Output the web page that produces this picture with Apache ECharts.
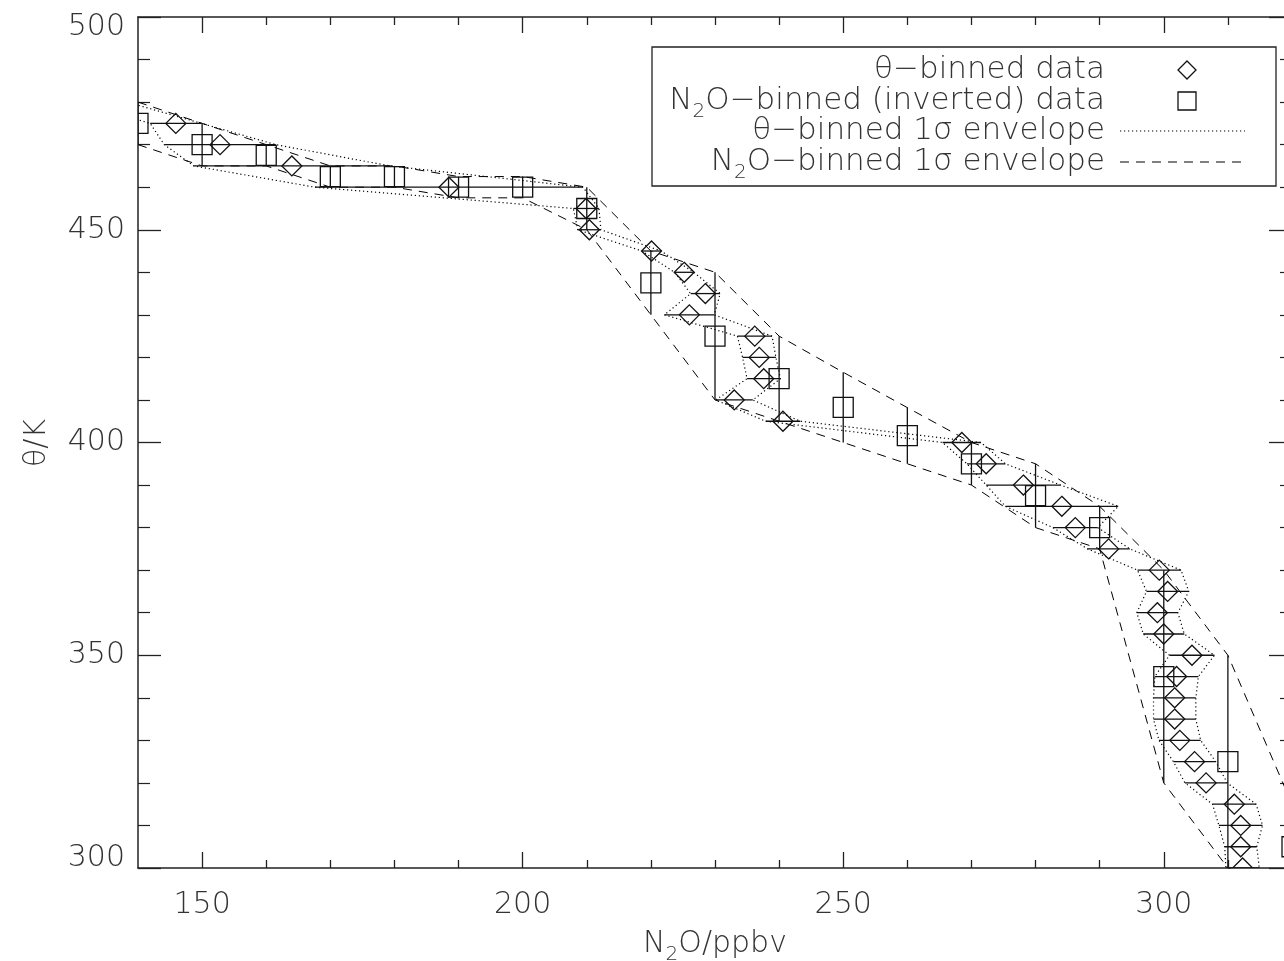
<!DOCTYPE html>
<html>
<head>
<meta charset="utf-8">
<script src="https://cdn.jsdelivr.net/npm/echarts@6/dist/echarts.min.js"></script>
<style>
html,body{margin:0;padding:0;background:#fff;}
#chart{width:1284px;height:961px;}
</style>
</head>
<body>
<div id="chart"></div>
<script>
// ---- theta-binned data (diamonds): mean N2O and 1-sigma spread of N2O in each theta bin
const thetaBins = [480, 475, 470, 465, 460, 455, 450, 445, 440, 435, 430, 425, 420, 415, 410, 405,
  400, 395, 390, 385, 380, 375, 370, 365, 360, 355, 350, 345, 340, 335, 330, 325, 320, 315, 310, 305, 300];
const thetaN2O = [134.5, 145.9, 152.8, 164.0, 188.5, 209.9, 210.4, 220.1, 225.2, 228.5, 226.0, 236.2, 236.9, 237.6, 233.0, 240.6,
  268.5, 272.3, 278.1, 284.1, 286.2, 291.4, 299.3, 300.6, 299.0, 300.0, 304.4, 302.0, 301.7, 301.7, 302.5, 304.8, 306.6, 311.0, 312.0, 312.0, 312.3];
const thetaN2OSd = [3.8, 4.0, 8.7, 15.3, 20.9, 2.0, 1.8, 1.5, 1.5, 2.3, 3.9, 2.7, 2.6, 2.6, 2.9, 2.7,
  3.0, 3.0, 5.8, 8.8, 3.5, 3.3, 3.4, 3.3, 3.2, 3.2, 3.5, 3.4, 3.3, 3.3, 3.25, 3.3, 3.3, 3.4, 3.4, 2.5, 2.6];

// ---- N2O-binned (inverted) data (squares): mean theta and 1-sigma spread of theta in each N2O bin
const n2oBins = [140, 150, 160, 170, 180, 190, 200, 210, 220, 230, 240, 250, 260, 270, 280, 290, 300, 310, 320];
const n2oTheta = [475, 470, 467.5, 462.5, 462.5, 460, 460, 455, 437.5, 425, 415, 408.25, 401.6, 395, 387.5, 380, 345, 325, 305];
const n2oThetaSd = [5, 5, 2.5, 2.5, 2.5, 2.5, 2.5, 5, 7.5, 15, 10, 8.25, 6.6, 5, 7.5, 5, 25, 25, 10];

// ---- tick labels
const xMajorTicks = [150, 200, 250, 300];
const xMinorTicks = [160, 170, 180, 190, 210, 220, 230, 240, 260, 270, 280, 290, 310];

// ---- text
const legendLabels = ['θ−binned data', 'N2O−binned (inverted) data', 'θ−binned 1σ envelope', 'N2O−binned 1σ envelope'];

const FONT = "'DejaVu Sans', sans-serif";
const FW = 200;
const TXT = '#333';
const AX = '#222';

function richN2O(s) { // turn "N2O" into a subscripted rich string
  return s.split('N2O').map(p => p ? '{n|' + p + '}' : '').join('{n|N}{s|2}{n|O}');
}
function richStyle(size, sub, pad) {
  return {
    n: { fontSize: size, fontFamily: FONT, fontWeight: FW, fill: TXT },
    s: { fontSize: sub, fontFamily: FONT, fontWeight: FW, fill: TXT, padding: [pad, 0, 0, 0] }
  };
}

const chart = echarts.init(document.getElementById('chart'), null, { renderer: 'canvas' });

function xAxisDef(pos, ticks, len, showLine, showLabel) {
  return {
    type: 'value', position: pos, min: 140, max: 320,
    axisLine: { show: showLine, onZero: false, lineStyle: { color: AX, width: 1.5 } },
    axisTick: { show: true, inside: true, length: len, customValues: ticks, lineStyle: { color: AX, width: 1.3 } },
    axisLabel: { show: showLabel, customValues: ticks, fontSize: 30, fontFamily: FONT, fontWeight: FW, color: TXT, margin: 22 },
    splitLine: { show: false }
  };
}
function yAxisDef(pos, showLabel) {
  return {
    type: 'value', position: pos, min: 300, max: 500, interval: 50,
    axisLine: { show: true, onZero: false, lineStyle: { color: AX, width: 1.5 } },
    axisTick: { show: true, inside: true, length: 23, lineStyle: { color: AX, width: 1.3 } },
    minorTick: { show: true, splitNumber: 5, length: 12, lineStyle: { color: AX, width: 1.2 } },
    axisLabel: { show: showLabel, fontSize: 30, fontFamily: FONT, fontWeight: FW, color: TXT, margin: 13, lineHeight: 20,
      verticalAlignMinLabel: 'bottom', verticalAlignMaxLabel: 'top' },
    splitLine: { show: false }
  };
}

const dotted = { color: '#000', width: 1.2, type: [1.2, 2.8] };
const dashed = { color: '#000', width: 1, type: [9, 7] };

function envelope(name, data, style) {
  return { type: 'line', name, data, symbol: 'none', showSymbol: false, clip: true,
    lineStyle: style, xAxisIndex: 0, yAxisIndex: 0, z: 2, silent: true };
}

const option = {
  animation: false,
  backgroundColor: '#fff',
  grid: { left: 138, top: 17, width: 1154, height: 851, containLabel: false, outerBoundsMode: 'none' },
  xAxis: [
    xAxisDef('bottom', xMajorTicks, 16, true, true),
    xAxisDef('bottom', xMinorTicks, 8, false, false),
    xAxisDef('top', xMajorTicks, 16, true, false),
    xAxisDef('top', xMinorTicks, 8, false, false)
  ],
  yAxis: [yAxisDef('left', true), yAxisDef('right', false)],
  series: [
    envelope('θ-binned 1σ envelope low', thetaBins.map((t, i) => [thetaN2O[i] - thetaN2OSd[i], t]), dotted),
    envelope('θ-binned 1σ envelope high', thetaBins.map((t, i) => [thetaN2O[i] + thetaN2OSd[i], t]), dotted),
    envelope('N2O-binned 1σ envelope high', n2oBins.map((n, i) => [n, n2oTheta[i] + n2oThetaSd[i]]), dashed),
    envelope('N2O-binned 1σ envelope low', n2oBins.map((n, i) => [n, n2oTheta[i] - n2oThetaSd[i]]), dashed),
    {
      type: 'custom', name: 'θ-binned data', clip: true, xAxisIndex: 0, yAxisIndex: 0, z: 3,
      data: thetaBins.map((t, i) => [thetaN2O[i], t, thetaN2OSd[i]]),
      encode: { x: 0, y: 1 },
      renderItem: function (params, api) {
        const x = api.value(0), y = api.value(1), s = api.value(2);
        const a = api.coord([x - s, y]), b = api.coord([x + s, y]), c = api.coord([x, y]);
        const h = 10;
        return { type: 'group', children: [
          { type: 'line', shape: { x1: a[0], y1: a[1], x2: b[0], y2: b[1] }, style: { stroke: '#111', lineWidth: 1.3 } },
          { type: 'polygon', shape: { points: [[c[0], c[1] - h], [c[0] + h, c[1]], [c[0], c[1] + h], [c[0] - h, c[1]]] },
            style: { fill: 'none', stroke: '#111', lineWidth: 1.3 } }
        ] };
      }
    },
    {
      type: 'custom', name: 'N2O-binned (inverted) data', clip: true, xAxisIndex: 0, yAxisIndex: 0, z: 3,
      data: n2oBins.map((n, i) => [n, n2oTheta[i], n2oThetaSd[i]]),
      encode: { x: 0, y: 1 },
      renderItem: function (params, api) {
        const x = api.value(0), y = api.value(1), s = api.value(2);
        const a = api.coord([x, y - s]), b = api.coord([x, y + s]), c = api.coord([x, y]);
        const h = 10;
        return { type: 'group', children: [
          { type: 'line', shape: { x1: a[0], y1: a[1], x2: b[0], y2: b[1] }, style: { stroke: '#111', lineWidth: 1.3 } },
          { type: 'rect', shape: { x: c[0] - h, y: c[1] - h, width: 2 * h, height: 2 * h },
            style: { fill: 'none', stroke: '#111', lineWidth: 1.3 } }
        ] };
      }
    }
  ],
  graphic: { elements: [
    // axis titles
    { type: 'text', x: 715, y: 944, z: 100,
      style: { text: richN2O('N2O/ppbv'), rich: richStyle(30, 20, 22), align: 'center', verticalAlign: 'middle', fill: TXT } },
    { type: 'text', x: 37, y: 443, rotation: Math.PI / 2, z: 100,
      style: { text: 'θ/K', fontSize: 30, fontFamily: FONT, fontWeight: FW, align: 'center', verticalAlign: 'middle', fill: TXT } },
    // legend box
    { type: 'rect', z: 100, shape: { x: 652, y: 47, width: 624, height: 139 },
      style: { fill: '#fff', stroke: AX, lineWidth: 1.3 } },
    { type: 'text', x: 1105, y: 70, z: 101,
      style: { text: richN2O(legendLabels[0]), rich: richStyle(31, 20, 22), align: 'right', verticalAlign: 'middle', fill: TXT } },
    { type: 'text', x: 1105, y: 101, z: 101,
      style: { text: richN2O(legendLabels[1]), rich: richStyle(31, 20, 22), align: 'right', verticalAlign: 'middle', fill: TXT } },
    { type: 'text', x: 1105, y: 131, z: 101,
      style: { text: richN2O(legendLabels[2]), rich: richStyle(31, 20, 22), align: 'right', verticalAlign: 'middle', fill: TXT } },
    { type: 'text', x: 1105, y: 162, z: 101,
      style: { text: richN2O(legendLabels[3]), rich: richStyle(31, 20, 22), align: 'right', verticalAlign: 'middle', fill: TXT } },
    { type: 'polygon', z: 101, shape: { points: [[1187, 61], [1196, 70], [1187, 79], [1178, 70]] },
      style: { fill: 'none', stroke: '#111', lineWidth: 1.3 } },
    { type: 'rect', z: 101, shape: { x: 1178, y: 92, width: 18, height: 18 },
      style: { fill: 'none', stroke: '#111', lineWidth: 1.3 } },
    { type: 'line', z: 101, shape: { x1: 1120, y1: 131, x2: 1245, y2: 131 },
      style: { stroke: '#000', lineWidth: 1.2, lineDash: [1.2, 2.8] } },
    { type: 'line', z: 101, shape: { x1: 1120, y1: 162, x2: 1245, y2: 162 },
      style: { stroke: '#000', lineWidth: 1, lineDash: [9, 7] } }
  ] }
};

chart.setOption(option);
</script>
</body>
</html>
